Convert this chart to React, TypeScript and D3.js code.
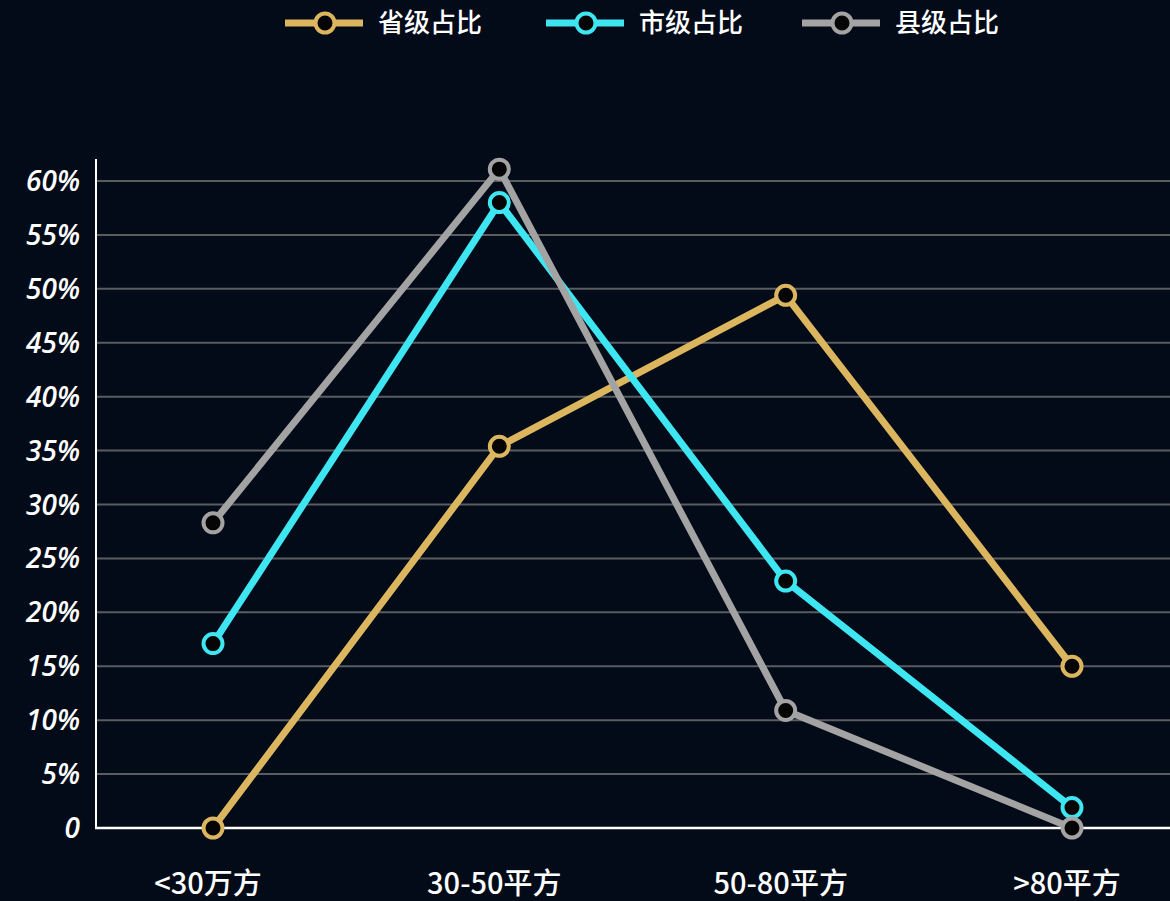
import React from "react";
import * as d3 from "d3";

const categories = ["<30万方", "30-50平方", "50-80平方", ">80平方"];
const seriesNames = ["省级占比", "市级占比", "县级占比"];
const provincial = [0, 35.4, 49.4, 15];
const city = [17.1, 58, 22.9, 1.9];
const county = [28.3, 61.1, 10.9, 0];
const yTicks = [0, 5, 10, 15, 20, 25, 30, 35, 40, 45, 50, 55, 60];
const colors = ["#dcb65f", "#3ee6f2", "#a3a3a3"];

const W = 1170;
const H = 901;

export default function App() {
  const series = [provincial, city, county];
  const x = d3.scalePoint<string>().domain(categories).range([213, 1072]);
  const y = d3.scaleLinear().domain([0, 60]).range([828, 181]);
  const line = d3
    .line<number>()
    .x((_, i) => x(categories[i]) as number)
    .y((d) => y(d));

  const legendX = [285, 546, 802];

  return (
    <svg
      width={W}
      height={H}
      style={{ position: "absolute", left: 0, top: 0, background: "#030b19" }}
    >
      <rect x={0} y={0} width={W} height={H} fill="#030b19" />
      {/* legend */}
      {seriesNames.map((n, i) => (
        <g key={n} transform={`translate(${legendX[i]},23)`}>
          <line x1={0} x2={78} y1={0} y2={0} stroke={colors[i]} strokeWidth={7} />
          <circle cx={40} cy={0} r={9.5} fill="#050505" stroke={colors[i]} strokeWidth={4} />
          <text
            x={93}
            y={0}
            dy="0.36em"
            fill="#ffffff"
            fontSize={26}
            fontWeight={500}
            fontFamily="'Noto Sans CJK SC', sans-serif"
          >
            {n}
          </text>
        </g>
      ))}
      {/* gridlines */}
      {yTicks.slice(1).map((t) => (
        <line key={t} x1={96} x2={W} y1={y(t)} y2={y(t)} stroke="#5a5c60" strokeWidth={2} />
      ))}
      {/* axes */}
      <line x1={96} x2={96} y1={159} y2={829} stroke="#ffffff" strokeWidth={2} />
      <line x1={95} x2={W} y1={y(0)} y2={y(0)} stroke="#ffffff" strokeWidth={2.5} />
      {/* y tick labels */}
      {yTicks.map((t) => (
        <text
          key={t}
          x={80}
          y={y(t)}
          dy="0.36em"
          textAnchor="end"
          fill="#ffffff"
          fontSize={28}
          fontStyle="italic"
          fontWeight={600}
          fontFamily="'Open Sans', sans-serif"
        >
          {t === 0 ? "0" : `${t}%`}
        </text>
      ))}
      {/* x labels */}
      {categories.map((c) => (
        <text
          key={c}
          x={(x(c) as number) - 5}
          y={884}
          dy="0.36em"
          textAnchor="middle"
          fill="#ffffff"
          fontSize={29}
          fontWeight={500}
          fontFamily="'Noto Sans CJK SC', sans-serif"
        >
          {c}
        </text>
      ))}
      {/* lines */}
      {series.map((s, i) => (
        <path
          key={i}
          d={line(s) as string}
          fill="none"
          stroke={colors[i]}
          strokeWidth={7}
          strokeLinejoin="round"
        />
      ))}
      {/* markers */}
      {series.map((s, i) =>
        s.map((v, j) => (
          <circle
            key={`${i}-${j}`}
            cx={x(categories[j]) as number}
            cy={y(v)}
            r={9.5}
            fill="#050505"
            stroke={colors[i]}
            strokeWidth={4}
          />
        ))
      )}
    </svg>
  );
}
